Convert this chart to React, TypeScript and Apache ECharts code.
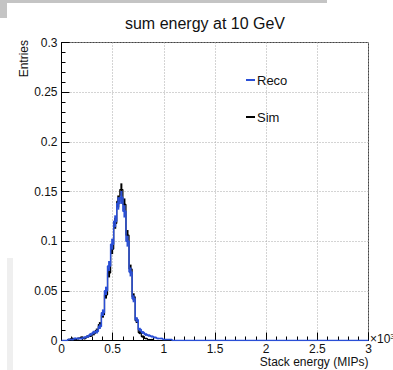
import React, { useEffect, useRef } from "react";
import * as echarts from "echarts";

const BIN_WIDTH = 0.03;
const N_BINS = 100;

const simHead = [0, 0, 0.001, 0.002, 0.001, 0.002, 0.003, 0.002, 0.004, 0.005, 0.007, 0.01, 0.016, 0.026, 0.046, 0.068, 0.092, 0.118, 0.14, 0.152, 0.137, 0.106, 0.072, 0.044, 0.02, 0.008, 0.004, 0.002, 0.001, 0.001];
const simErrHead = [0, 0, 0.0008, 0.001, 0.0008, 0.001, 0.0012, 0.001, 0.0013, 0.0015, 0.0018, 0.002, 0.0025, 0.003, 0.0038, 0.0045, 0.005, 0.0055, 0.006, 0.0062, 0.006, 0.0052, 0.0044, 0.0035, 0.0024, 0.0016, 0.0011, 0.0008, 0.0006, 0.0006];
const recoHead = [0, 0, 0.001, 0.001, 0.002, 0.002, 0.002, 0.003, 0.004, 0.006, 0.008, 0.009, 0.014, 0.028, 0.05, 0.075, 0.097, 0.12, 0.138, 0.144, 0.13, 0.1, 0.069, 0.042, 0.021, 0.011, 0.008, 0.006, 0.005, 0.004, 0.003, 0.002, 0.002, 0.001, 0.001, 0.001];
const recoErrHead = [0, 0, 0.0007, 0.0007, 0.001, 0.001, 0.001, 0.0012, 0.0013, 0.0016, 0.0018, 0.002, 0.0024, 0.0033, 0.0042, 0.005, 0.0055, 0.006, 0.0063, 0.0065, 0.0062, 0.0055, 0.0045, 0.0035, 0.0025, 0.0018, 0.0015, 0.0013, 0.0011, 0.001, 0.0009, 0.0007, 0.0007, 0.0005, 0.0005, 0.0005];

const xTicks = [0, 0.5, 1, 1.5, 2, 2.5, 3];
const yTicks = [0, 0.05, 0.1, 0.15, 0.2, 0.25, 0.3];

const pad = (a: number[]) => a.concat(new Array(N_BINS - a.length).fill(0));
const simValues = pad(simHead);
const simErr = pad(simErrHead);
const recoValues = pad(recoHead);
const recoErr = pad(recoErrHead);

const stepPoints = (vals: number[]) => {
  const pts: number[][] = [];
  vals.forEach((v, i) => {
    pts.push([i * BIN_WIDTH, v]);
    pts.push([(i + 1) * BIN_WIDTH, v]);
  });
  return pts;
};

const errPoints = (vals: number[], errs: number[]) =>
  vals
    .map((v, i) => [(i + 0.5) * BIN_WIDTH, v, errs[i]])
    .filter((d) => d[2] > 0);

const FONT = "Liberation Sans, Arial, Helvetica, sans-serif";

export default function App() {
  const ref = useRef<HTMLDivElement>(null);
  useEffect(() => {
    if (!ref.current) return;
    const chart = echarts.init(ref.current, undefined, { renderer: "svg" });
    const errRender = (color: string, w: number) => (params: any, api: any) => {
      const x = api.value(0);
      const v = api.value(1);
      const e = api.value(2);
      const p1 = api.coord([x, v - e]);
      const p2 = api.coord([x, v + e]);
      return {
        type: "line",
        shape: { x1: p1[0], y1: p1[1], x2: p2[0], y2: p2[1] },
        style: { stroke: color, lineWidth: w },
      };
    };
    const axisCommon = {
      axisLine: { show: true, lineStyle: { color: "#000", width: 1 } },
      axisTick: { show: true, inside: true, length: 8, lineStyle: { color: "#000" } },
      minorTick: { show: true, splitNumber: 5, length: 4, lineStyle: { color: "#000" } },
      splitLine: { show: true, lineStyle: { type: [1, 2], color: "#a8a8a8", width: 1 } },
      minorSplitLine: { show: false },
    };
    chart.setOption({
      animation: false,
      backgroundColor: "#fff",
      grid: {
        left: 61.5,
        top: 42.5,
        right: 24.5,
        bottom: 29.5,
        show: true,
        borderColor: "#444",
        borderWidth: 1,
        backgroundColor: "transparent",
      },
      xAxis: {
        type: "value",
        min: xTicks[0],
        max: xTicks[xTicks.length - 1],
        interval: 0.5,
        ...axisCommon,
        axisLabel: {
          margin: 2,
          fontSize: 12,
          fontFamily: FONT,
          color: "#111",
          formatter: (v: number) => String(+v.toFixed(2)),
        },
      },
      yAxis: {
        type: "value",
        min: yTicks[0],
        max: yTicks[yTicks.length - 1],
        interval: 0.05,
        ...axisCommon,
        axisLabel: {
          margin: 4,
          fontSize: 12,
          fontFamily: FONT,
          color: "#111",
          formatter: (v: number) => String(+v.toFixed(2)),
        },
      },
      series: [
        {
          type: "line",
          name: "Sim",
          data: stepPoints(simValues),
          symbol: "none",
          lineStyle: { color: "#000", width: 1.2 },
          z: 3,
        },
        {
          type: "custom",
          name: "SimErr",
          data: errPoints(simValues, simErr),
          renderItem: errRender("#000", 2),
          z: 3,
        },
        {
          type: "line",
          name: "Reco",
          data: stepPoints(recoValues),
          symbol: "none",
          lineStyle: { color: "#2a4fd6", width: 1.5 },
          z: 4,
        },
        {
          type: "custom",
          name: "RecoErr",
          data: errPoints(recoValues, recoErr),
          renderItem: errRender("#2a4fd6", 2),
          z: 4,
        },
      ],
      graphic: [
        { type: "rect", shape: { x: 0, y: 0, width: 327, height: 3 }, style: { fill: "#c4c4c4" }, z: 10 },
        { type: "rect", shape: { x: 0, y: 0, width: 7, height: 18 }, style: { fill: "#c4c4c4" }, z: 10 },
        { type: "rect", shape: { x: 7, y: 258, width: 6, height: 112 }, style: { fill: "#efefef" }, z: 10 },
        {
          type: "text",
          x: 205,
          y: 23,
          style: { text: "sum energy at 10 GeV", fontSize: 16, fontFamily: FONT, fill: "#111", textAlign: "center", textVerticalAlign: "middle" },
        },
        {
          type: "text",
          x: 23.5,
          y: 40,
          rotation: Math.PI / 2,
          style: { text: "Entries", fontSize: 12, fontFamily: FONT, fill: "#111", textAlign: "right", textVerticalAlign: "middle" },
        },
        {
          type: "text",
          x: 368.5,
          y: 362,
          style: { text: "Stack energy (MIPs)", fontSize: 12, fontFamily: FONT, fill: "#111", textAlign: "right", textVerticalAlign: "middle" },
        },
        {
          type: "text",
          x: 370,
          y: 339,
          style: {
            text: "{a|×10}{b|3}",
            rich: {
              a: { fontSize: 12, fontFamily: FONT, fill: "#111" },
              b: { fontSize: 8, fontFamily: FONT, fill: "#111", verticalAlign: "top", padding: [0, 0, 6, 0] },
            },
            textAlign: "left",
            textVerticalAlign: "middle",
          },
        },
        { type: "line", shape: { x1: 246, y1: 80, x2: 255, y2: 80 }, style: { stroke: "#2a4fd6", lineWidth: 2 } },
        {
          type: "text",
          x: 257,
          y: 80,
          style: { text: "Reco", fontSize: 13, fontFamily: FONT, fill: "#111", textAlign: "left", textVerticalAlign: "middle" },
        },
        { type: "line", shape: { x1: 246, y1: 117, x2: 255, y2: 117 }, style: { stroke: "#000", lineWidth: 2 } },
        {
          type: "text",
          x: 257,
          y: 117,
          style: { text: "Sim", fontSize: 13, fontFamily: FONT, fill: "#111", textAlign: "left", textVerticalAlign: "middle" },
        },
      ],
    });
    return () => chart.dispose();
  }, []);
  return (
    <div
      ref={ref}
      style={{ position: "fixed", left: 0, top: 0, width: 393, height: 370 }}
    />
  );
}
